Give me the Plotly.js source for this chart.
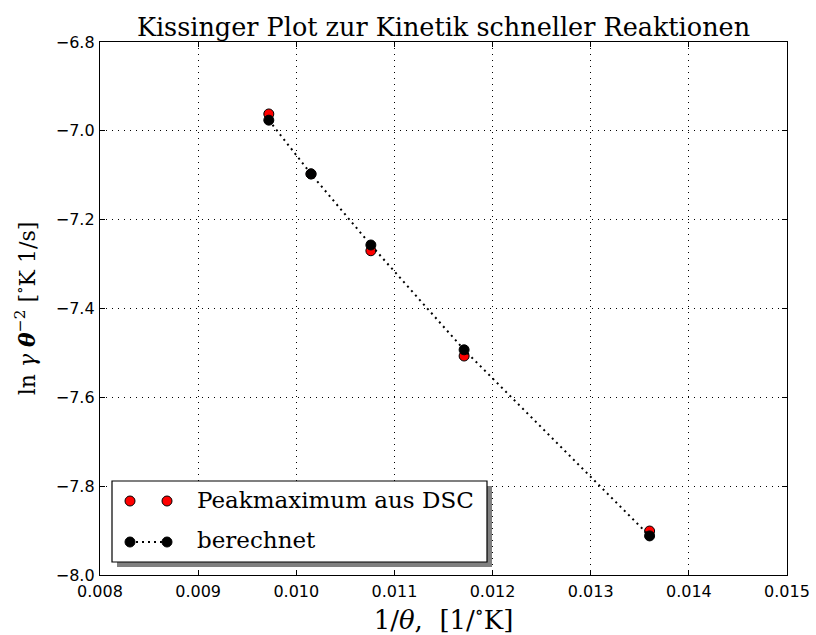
<!DOCTYPE html>
<html>
<head>
<meta charset="utf-8">
<script src="https://cdn.plot.ly/plotly-3.0.1.min.js"></script>
<style>
  html, body { margin: 0; padding: 0; background: #fff; }
  #chart { width: 816px; height: 635px; }
</style>
</head>
<body>
<div id="chart"></div>
<script>
// Inverse peak temperature 1/θ [1/°K]
const invTheta = [0.00972, 0.01015, 0.01076, 0.01171, 0.01360];
// ln(γ θ^-2) from the DSC peak maxima
const lnMeasured = [-6.962, -7.097, -7.270, -7.507, -7.901];
// ln(γ θ^-2) from the fitted kinetic model
const lnCalculated = [-6.976, -7.097, -7.257, -7.493, -7.912];

const xTicks = [0.008, 0.009, 0.010, 0.011, 0.012, 0.013, 0.014, 0.015];
const yTicks = [-8.0, -7.8, -7.6, -7.4, -7.2, -7.0, -6.8];

const legendLabels = ['Peakmaximum aus DSC', 'berechnet'];

const serif = 'DejaVu Serif, serif';
const sans = 'DejaVu Sans, sans-serif';

const traces = [
  {
    x: invTheta, y: lnMeasured, mode: 'markers', name: legendLabels[0],
    marker: { color: '#ff0000', size: 10, line: { color: '#000', width: 1 } },
    showlegend: false
  },
  {
    x: invTheta, y: lnCalculated, mode: 'lines+markers', name: legendLabels[1],
    line: { color: '#000', width: 2, dash: '2px,4px' },
    marker: { color: '#000', size: 10, line: { color: '#000', width: 1 } },
    showlegend: false
  }
];

// hand-built legend box with a drop shadow, in paper coordinates
const plotW = 816 - 100 - 29, plotH = 635 - 42 - 60;
const px = v => (v - 100) / plotW;          // page x -> paper x
const py = v => 1 - (v - 42) / plotH;       // page y -> paper y

const shapes = [
  { type: 'rect', xref: 'paper', yref: 'paper', x0: px(117), x1: px(492), y0: py(567), y1: py(486),
    fillcolor: '#808080', line: { width: 0 }, layer: 'above' },
  { type: 'rect', xref: 'paper', yref: 'paper', x0: px(112), x1: px(487), y0: py(562), y1: py(481),
    fillcolor: '#ffffff', line: { color: '#000', width: 1.2 }, layer: 'above' },
  // symbols for the measured series
  { type: 'circle', xref: 'paper', yref: 'paper', x0: px(125), x1: px(135), y0: py(506), y1: py(496),
    fillcolor: '#ff0000', line: { color: '#000', width: 1 }, layer: 'above' },
  { type: 'circle', xref: 'paper', yref: 'paper', x0: px(162), x1: px(172), y0: py(506), y1: py(496),
    fillcolor: '#ff0000', line: { color: '#000', width: 1 }, layer: 'above' },
  // symbols for the calculated series
  { type: 'line', xref: 'paper', yref: 'paper', x0: px(130), x1: px(167), y0: py(542), y1: py(542),
    line: { color: '#000', width: 2, dash: '2px,4px' }, layer: 'above' },
  { type: 'circle', xref: 'paper', yref: 'paper', x0: px(125), x1: px(135), y0: py(547), y1: py(537),
    fillcolor: '#000', line: { color: '#000', width: 1 }, layer: 'above' },
  { type: 'circle', xref: 'paper', yref: 'paper', x0: px(162), x1: px(172), y0: py(547), y1: py(537),
    fillcolor: '#000', line: { color: '#000', width: 1 }, layer: 'above' }
];

const annotations = [
  { xref: 'paper', yref: 'paper', x: px(195), y: py(500), xanchor: 'left', yanchor: 'middle',
    text: legendLabels[0], showarrow: false, font: { family: serif, size: 23, color: '#000' } },
  { xref: 'paper', yref: 'paper', x: px(195), y: py(540), xanchor: 'left', yanchor: 'middle',
    text: legendLabels[1], showarrow: false, font: { family: serif, size: 23, color: '#000' } }
];

const axisCommon = {
  showline: true, linecolor: '#000', linewidth: 1.2, mirror: 'ticks',
  ticks: 'inside', ticklen: 5, tickwidth: 1, tickcolor: '#000',
  showgrid: true, gridcolor: '#000', gridwidth: 1, griddash: '1px,5px',
  zeroline: false,
  tickfont: { family: sans, size: 16, color: '#000' }
};

const layout = {
  width: 816, height: 635,
  margin: { l: 100, r: 29, t: 42, b: 60 },
  paper_bgcolor: '#fff', plot_bgcolor: '#fff',
  title: {
    text: 'Kissinger Plot zur Kinetik schneller Reaktionen',
    font: { family: serif, size: 25.5, color: '#000' },
    x: 0.5, xref: 'paper', y: 1, yref: 'paper', yanchor: 'bottom', pad: { b: 6 }
  },
  xaxis: Object.assign({}, axisCommon, {
    range: [0.008, 0.015], tickvals: xTicks, tickformat: '.3f', ticklabelstandoff: 2,
    title: { text: '1/<i>θ</i>,  [1/<sup>∘</sup>K]', font: { family: serif, size: 26, color: '#000' }, standoff: 1 }
  }),
  yaxis: Object.assign({}, axisCommon, {
    range: [-8.0, -6.8], tickvals: yTicks, tickformat: '.1f', ticklabelstandoff: 1,
    title: { text: 'ln <i>γ</i> <b><i>θ</i></b><sup>−2</sup> [<sup>∘</sup>K 1/s]', font: { family: serif, size: 22, color: '#000' }, standoff: 14 }
  }),
  shapes: shapes,
  annotations: annotations,
  showlegend: false
};

Plotly.newPlot('chart', traces, layout, { displayModeBar: false, staticPlot: true });
</script>
</body>
</html>
